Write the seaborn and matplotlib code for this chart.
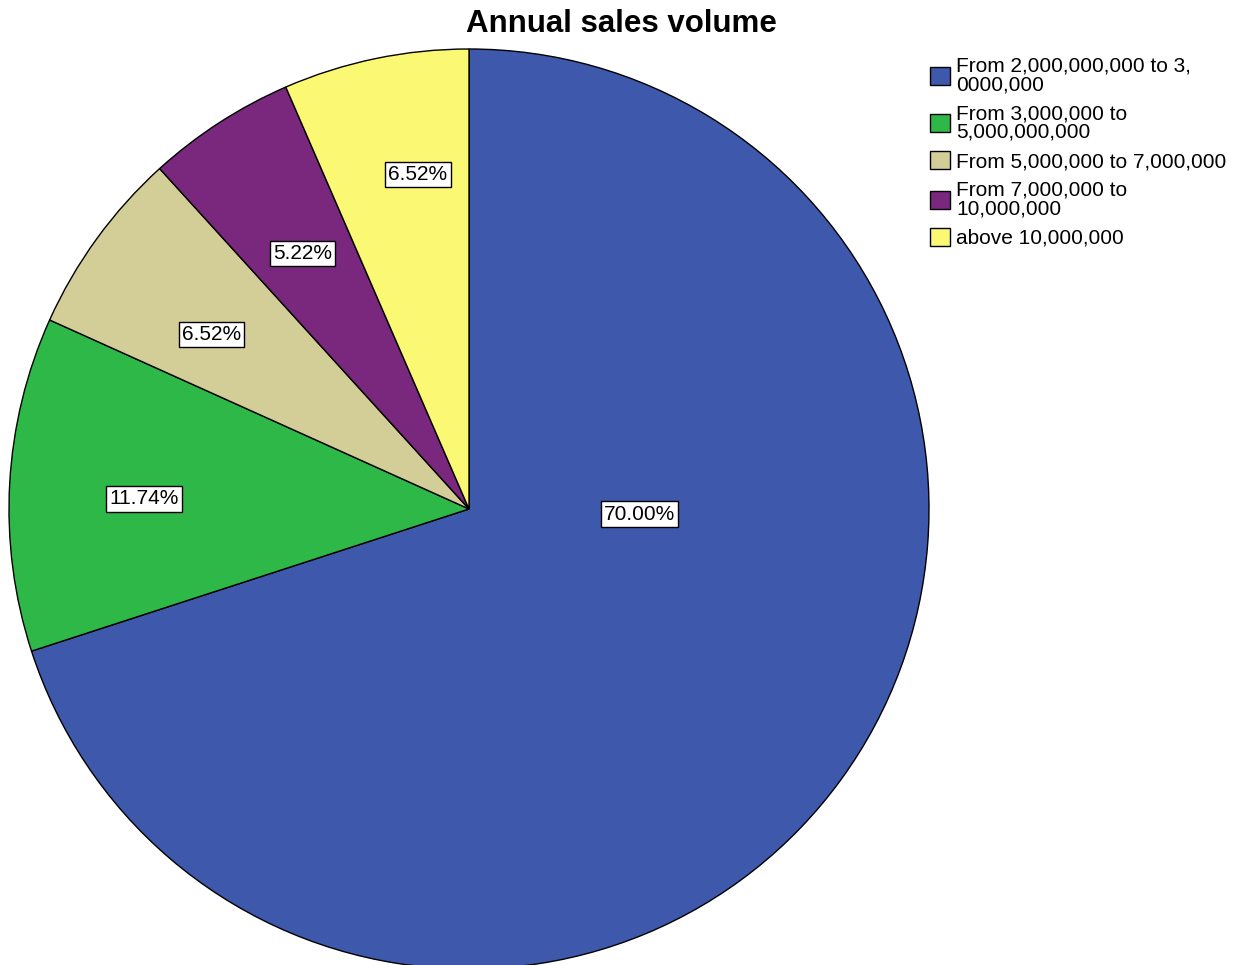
import numpy as np
import matplotlib
matplotlib.use("Agg")
import matplotlib.pyplot as plt
import matplotlib.patches as mpatches
import seaborn as sns

# data
categories = [
    "From 2,000,000,000 to 3,\n0000,000",
    "From 3,000,000 to\n5,000,000,000",
    "From 5,000,000 to 7,000,000",
    "From 7,000,000 to\n10,000,000",
    "above 10,000,000",
]
shares = [70.00, 11.74, 6.52, 5.22, 6.52]
colors = ["#3E58AC", "#2EB848", "#D3CE97", "#79287D", "#FBF873"]

# label anchors in pie units (radius = 1)
label_pos = [(0.371, -0.011), (-0.707, 0.022), (-0.560, 0.380),
             (-0.362, 0.555), (-0.111, 0.727)]

sns.set_theme(style="white")
plt.rcParams["font.family"] = ["Liberation Sans", "DejaVu Sans"]
plt.rcParams["text.color"] = "black"

fig = plt.figure(figsize=(12.42, 9.65), dpi=100)
W, H = 1242, 965
cx, cy, r = 469, 509, 460
ax = fig.add_axes([(cx - r) / W, (H - cy - r) / H, 2 * r / W, 2 * r / H])

wedges, _ = ax.pie(shares, colors=colors, startangle=90, counterclock=False,
                   wedgeprops=dict(edgecolor="black", linewidth=1.0))
ax.set_xlim(-1, 1)
ax.set_ylim(-1, 1)
ax.set_aspect("equal")
ax.axis("off")

for (x, y), v in zip(label_pos, shares):
    ax.text(x, y, f"{v:.2f}%", ha="center", va="center", fontsize=15,
            color="black",
            bbox=dict(boxstyle="square,pad=0.15", facecolor="white",
                      edgecolor="black", linewidth=1.0))

fig.text(621 / W, 1 - 24 / H, "Annual sales volume", ha="center", va="center",
         fontsize=22.5, fontweight="bold", color="black")

handles = [mpatches.Patch(facecolor=c, edgecolor="black", linewidth=1.0) for c in colors]
leg = fig.legend(handles, categories, loc="upper left",
                 bbox_to_anchor=(930 / W, 1 - 57 / H), frameon=False,
                 fontsize=15, handlelength=0.95, handleheight=0.95,
                 handletextpad=0.3, borderpad=0, borderaxespad=0,
                 labelspacing=0.45)
for t in leg.get_texts():
    t.set_linespacing(0.98)
    t.set_color("black")

fig.savefig("out.png", dpi=100)
